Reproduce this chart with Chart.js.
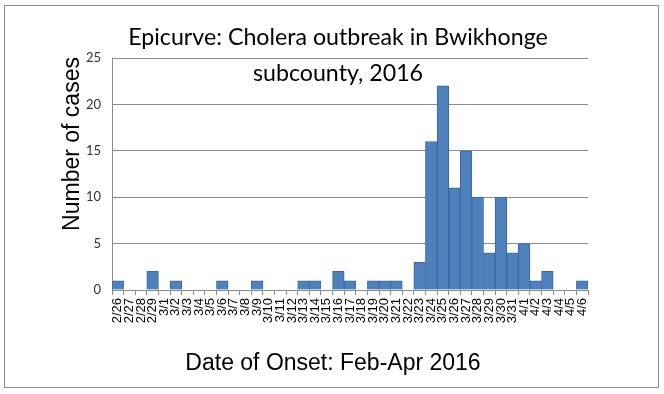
<!DOCTYPE html>
<html>
<head>
<meta charset="utf-8">
<script src="https://cdn.jsdelivr.net/npm/chart.js@4.4.0/dist/chart.umd.min.js"></script>
<style>
  html, body { margin: 0; padding: 0; background: #fff; }
  #wrap { width: 664px; height: 394px; }
</style>
</head>
<body>
<div id="wrap"><canvas id="epi" width="664" height="394"></canvas></div>
<script>
const dates = ['2/26','2/27','2/28','2/29','3/1','3/2','3/3','3/4','3/5','3/6','3/7','3/8','3/9','3/10',
  '3/11','3/12','3/13','3/14','3/15','3/16','3/17','3/18','3/19','3/20','3/21','3/22','3/23','3/24',
  '3/25','3/26','3/27','3/28','3/29','3/30','3/31','4/1','4/2','4/3','4/4','4/5','4/6'];
const cases = [1,0,0,2,0,1,0,0,0,1,0,0,1,0,
  0,0,1,1,0,2,1,0,1,1,1,0,3,16,
  22,11,15,10,4,10,4,5,1,2,0,0,1];
const yTicks = [0, 5, 10, 15, 20, 25];
const titleLines = ['Epicurve: Cholera outbreak in Bwikhonge', 'subcounty, 2016'];
const yTitle = 'Number of cases';
const xTitle = 'Date of Onset: Feb-Apr 2016';

// frame + titles drawn around the chart
const frame = {
  id: 'frame',
  beforeDraw(chart) {
    const c = chart.ctx;
    c.save();
    c.fillStyle = '#fff';
    c.fillRect(0, 0, chart.width, chart.height);
    c.strokeStyle = '#8c8c8c';
    c.lineWidth = 1;
    c.strokeRect(4.5, 5.5, 654, 382);
    c.restore();
  },
  afterDraw(chart) {
    const c = chart.ctx;
    c.save();
    c.fillStyle = '#000';
    c.textAlign = 'center';
    c.textBaseline = 'alphabetic';
    // title, sized so the first line spans like the original
    c.font = '24px Lato, "Open Sans", sans-serif';
    let w = c.measureText(titleLines[0]).width;
    let size = 24 * 419 / w;
    c.font = size.toFixed(1) + 'px Lato, "Open Sans", sans-serif';
    c.fillText(titleLines[0], 338, 45);
    c.fillText(titleLines[1], 338, 81);

    c.font = '23px "Liberation Sans", Arial, sans-serif';
    c.fillText(xTitle, 333, 370);

    c.translate(79, 144);
    c.rotate(-Math.PI / 2);
    c.fillText(yTitle, 0, 0);
    c.restore();
  }
};

new Chart(document.getElementById('epi'), {
  type: 'bar',
  data: {
    labels: dates,
    datasets: [{
      label: 'Cases',
      data: cases,
      backgroundColor: '#4F81BD',
      borderColor: '#3B679B',
      borderWidth: 1,
      categoryPercentage: 1,
      barPercentage: 1
    }]
  },
  options: {
    responsive: false,
    animation: false,
    layout: { padding: { top: 58, right: 76, left: 0, bottom: 0 } },
    plugins: {
      legend: { display: false },
      tooltip: { enabled: false }
    },
    scales: {
      x: {
        grid: { display: true, drawOnChartArea: false, offset: true, tickLength: 5, color: '#8c8c8c' },
        border: { color: '#8c8c8c' },
        ticks: {
          minRotation: 90, maxRotation: 90, autoSkip: false, padding: 3,
          color: '#000',
          font: { family: '"Liberation Sans", Arial, sans-serif', size: 13 }
        },
        afterFit: s => { s.height = 104; }
      },
      y: {
        min: 0,
        max: 25,
        afterBuildTicks: axis => { axis.ticks = yTicks.map(v => ({ value: v })); },
        grid: { color: '#8c8c8c', drawTicks: false },
        border: { color: '#8c8c8c' },
        ticks: {
          padding: 11,
          color: '#333',
          font: { family: 'Lato, sans-serif', size: 13 }
        },
        afterFit: s => { s.width = 112; }
      }
    }
  },
  plugins: [frame]
});
</script>
</body>
</html>
